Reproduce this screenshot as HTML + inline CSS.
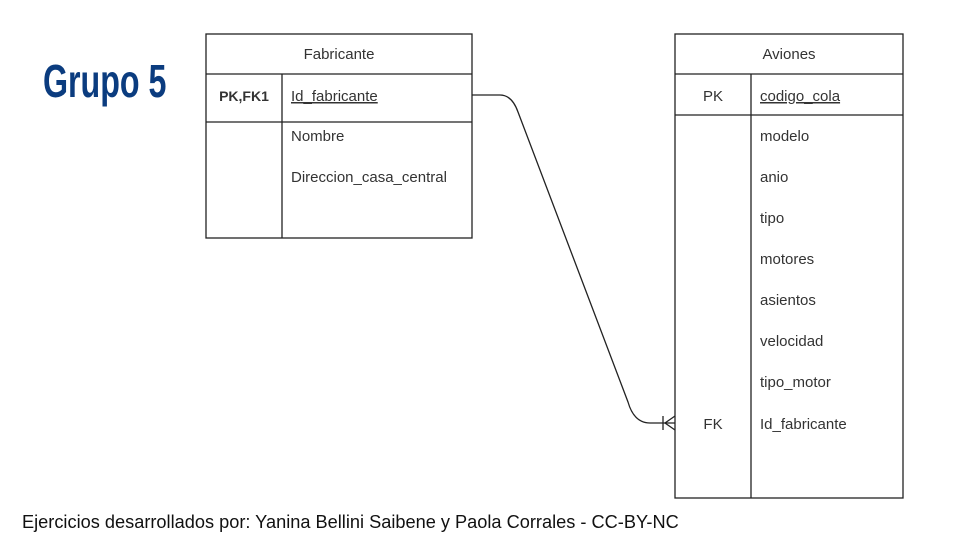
<!DOCTYPE html>
<html><head><meta charset="utf-8"><style>
html,body{margin:0;padding:0;background:#fff;}
svg{display:block;}
</style></head><body>
<svg width="960" height="540" viewBox="0 0 960 540" xmlns="http://www.w3.org/2000/svg">
<rect width="960" height="540" fill="#fff"/>
<text x="0" y="0" transform="translate(43,97) scale(0.7,1)" font-family="Liberation Sans, sans-serif" font-weight="bold" font-size="46" fill="#0b3c7f">Grupo 5</text>
<g stroke="#222" stroke-width="1.3" fill="none">
<rect x="206" y="34" width="266" height="204"/>
<line x1="206" y1="74" x2="472" y2="74"/>
<line x1="206" y1="122" x2="472" y2="122"/>
<line x1="282" y1="74" x2="282" y2="238"/>
<rect x="675" y="34" width="228" height="464"/>
<line x1="675" y1="74" x2="903" y2="74"/>
<line x1="675" y1="115" x2="903" y2="115"/>
<line x1="751" y1="74" x2="751" y2="498"/>
<path d="M472 95 L500 95 Q512 95 518 112 L628 402 Q634 423 650 423 L675 423"/>
<line x1="663" y1="416" x2="663" y2="430"/>
<path d="M675 416 L665 423 L675 430"/>
</g>
<g font-family="Liberation Sans, sans-serif" font-size="15" fill="#333">
<text x="339" y="59" text-anchor="middle">Fabricante</text>
<text x="244" y="101" text-anchor="middle" font-weight="bold" font-size="14">PK,FK1</text>
<text x="291" y="101" text-decoration="underline">Id_fabricante</text>
<text x="291" y="141">Nombre</text>
<text x="291" y="182">Direccion_casa_central</text>
<text x="789" y="59" text-anchor="middle">Aviones</text>
<text x="713" y="101" text-anchor="middle">PK</text>
<text x="760" y="101" text-decoration="underline">codigo_cola</text>
<text x="760" y="141">modelo</text>
<text x="760" y="182">anio</text>
<text x="760" y="223">tipo</text>
<text x="760" y="264">motores</text>
<text x="760" y="305">asientos</text>
<text x="760" y="346">velocidad</text>
<text x="760" y="387">tipo_motor</text>
<text x="713" y="429" text-anchor="middle">FK</text>
<text x="760" y="429">Id_fabricante</text>
</g>
<text x="22" y="528" font-family="Liberation Sans, sans-serif" font-size="18.2" fill="#111">Ejercicios desarrollados por: Yanina Bellini Saibene y Paola Corrales - CC-BY-NC</text>
</svg>
</body></html>
